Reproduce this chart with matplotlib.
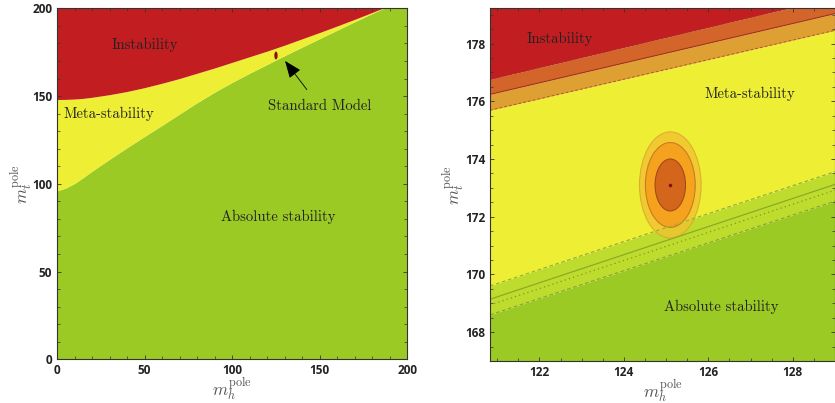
import matplotlib
matplotlib.use('Agg')
import matplotlib.pyplot as plt
from matplotlib.patches import Ellipse
from matplotlib.ticker import MultipleLocator
import numpy as np

plt.rcParams['mathtext.fontset'] = 'cm'

# full plane: Higgs mass grid and the two phase boundaries (top pole mass)
mh_full = [0, 5, 10, 15, 20, 30, 40, 50, 60, 70, 80, 90, 100,
           110, 120, 130, 140, 150, 160, 170, 180, 190, 200]
mt_instab = [148.0, 148.1, 148.3, 148.7, 149.3, 150.8, 152.6, 154.8, 157.3, 160.0, 163.0,
             166.0, 169.2, 172.4, 175.6, 179.0, 182.6, 186.2, 189.9, 193.7, 197.6,
             201.6, 205.7]
mt_stab = [96.0, 97.6, 100.2, 103.6, 107.2, 114.0, 120.6, 127.0, 133.3, 139.8, 146.2,
           152.2, 157.8, 163.0, 168.0, 173.0, 177.9, 182.7, 187.5, 192.3, 197.0,
           201.6, 206.0]

# zoomed plane: straight boundaries with their error bands
mh_zoom = [120.83, 129.0]
mt_instab_hi = [176.76, 179.61]
mt_instab_mid = [176.24, 179.04]
mt_instab_lo = [175.69, 178.46]
mt_stab_hi = [169.60, 173.56]
mt_stab_mid = [169.14, 173.12]
mt_stab_dot = [168.94, 172.92]
mt_stab_lo = [168.60, 172.54]

# measured point and its confidence ellipses (half widths)
sm_point = (125.1, 173.1)
ell_mh = [0.73, 0.59, 0.36]
ell_mt = [1.84, 1.47, 0.90]

RED = '#c21e21'
YELLOW = '#eeee35'
GREEN = '#9bca25'
TEXT = '#222222'

fig = plt.figure(figsize=(8.35, 4.03), dpi=100)
ax1 = fig.add_axes([0.0683, 0.1084, 0.4192, 0.871])
ax2 = fig.add_axes([0.5868, 0.1042, 0.4132, 0.875])


def style_axes(ax, major, minor, ypad):
    ax.xaxis.set_major_locator(MultipleLocator(major[0]))
    ax.yaxis.set_major_locator(MultipleLocator(major[1]))
    ax.xaxis.set_minor_locator(MultipleLocator(minor[0]))
    ax.yaxis.set_minor_locator(MultipleLocator(minor[1]))
    ax.tick_params(which='both', direction='in', top=True, right=True,
                   color='#333333', labelcolor=TEXT, labelsize=8.5)
    ax.tick_params(which='major', length=3, width=0.6)
    ax.tick_params(which='minor', length=2, width=0.5)
    for lab in ax.get_xticklabels() + ax.get_yticklabels():
        lab.set_fontfamily('Open Sans')
        lab.set_fontweight('bold')
    for sp in ax.spines.values():
        sp.set_linewidth(0.8)
        sp.set_color('#333333')
    ax.set_xlabel(r'$m_h^{\rm pole}$', fontsize=12.5, color='#555555', labelpad=-1)
    ax.set_ylabel(r'$m_t^{\rm pole}$', fontsize=12.5, color='#555555', labelpad=ypad)


def label(ax, x, y, s, ha='center'):
    ax.text(x, y, s, ha=ha, va='center', fontsize=10.6, family='cmr10', color=TEXT)


# left panel
ax1.set_xlim(0, 200)
ax1.set_ylim(0, 200)
ax1.fill_between(mh_full, 0, mt_stab, color=GREEN, lw=0)
ax1.fill_between(mh_full, mt_stab, mt_instab, color=YELLOW, lw=0)
ax1.fill_between(mh_full, mt_instab, 210, color=RED, lw=0)
ax1.add_patch(Ellipse(sm_point, 1.9, 4.5, color='#8a0f0f', lw=0))
ax1.annotate('Standard Model', xy=(130.3, 170.0), xytext=(149.8, 144.4),
             ha='center', va='center', fontsize=10.6, family='cmr10', color=TEXT,
             arrowprops=dict(arrowstyle='-|>,head_length=1.0,head_width=0.4',
                             color='black', lw=0.6, shrinkB=0, shrinkA=6))
label(ax1, 50, 179, 'Instability')
label(ax1, 3.6, 139.8, 'Meta-stability', ha='left')
label(ax1, 126.2, 81, 'Absolute stability')
style_axes(ax1, (50, 50), (10, 10), -1.5)

# right panel
ax2.set_xlim(120.83, 129.0)
ax2.set_ylim(167.0, 179.22)
ax2.fill_between(mh_zoom, 160, mt_stab_lo, color=GREEN, lw=0)
ax2.fill_between(mh_zoom, mt_stab_lo, mt_stab_hi, color='#bedc2d', lw=0)
ax2.fill_between(mh_zoom, mt_stab_hi, mt_instab_lo, color=YELLOW, lw=0)
ax2.fill_between(mh_zoom, mt_instab_lo, mt_instab_mid, color='#dea032', lw=0)
ax2.fill_between(mh_zoom, mt_instab_mid, mt_instab_hi, color='#d4652a', lw=0)
ax2.fill_between(mh_zoom, mt_instab_hi, 185, color=RED, lw=0)

ax2.plot(mh_zoom, mt_instab_hi, color='#a8301e', lw=0.7, ls=(0, (3, 2)))
ax2.plot(mh_zoom, mt_instab_mid, color='#9c2f1c', lw=0.7)
ax2.plot(mh_zoom, mt_instab_lo, color='#b05a22', lw=0.7, ls=(0, (3, 2)))
ax2.plot(mh_zoom, mt_stab_hi, color='#98b42a', lw=0.9, ls=(0, (3, 2)))
ax2.plot(mh_zoom, mt_stab_mid, color='#8fa82a', lw=0.9)
ax2.plot(mh_zoom, mt_stab_dot, color='#7f9a24', lw=0.9, ls=(0, (1, 2.5)))
ax2.plot(mh_zoom, mt_stab_lo, color='#8aa92a', lw=0.9, ls=(0, (3, 2)))

ell_face = ['#f2c232', '#f5a31f', '#d4661b']
ell_edge = ['#d9a52a', '#c97c1f', '#a44a1a']
ell_alpha = [0.8, 1.0, 1.0]
for w, h, fc, ec, a in zip(ell_mh, ell_mt, ell_face, ell_edge, ell_alpha):
    ax2.add_patch(Ellipse(sm_point, 2 * w, 2 * h, facecolor=fc, edgecolor=ec,
                          lw=0.8, alpha=a))
ax2.plot(*sm_point, 'o', ms=1.6, color='#8a0f0f')

label(ax2, 122.49, 178.15, 'Instability')
label(ax2, 126.99, 176.25, 'Meta-stability')
label(ax2, 126.31, 168.86, 'Absolute stability')
style_axes(ax2, (2, 2), (0.5, 0.5), -1)

fig.savefig('out.png', dpi=100)
